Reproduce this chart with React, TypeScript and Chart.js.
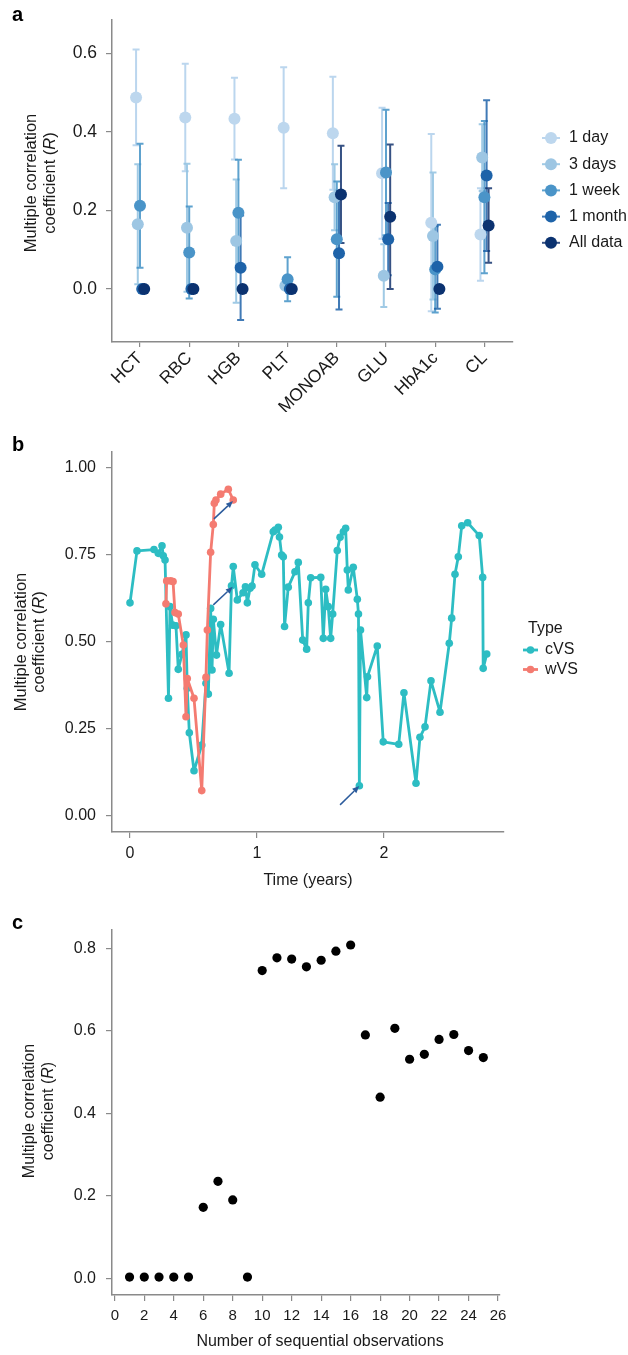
import React, { useEffect, useRef } from 'react';
import { Chart, registerables } from 'chart.js';

Chart.register(...registerables);

const FONT = "'Liberation Sans', Arial, Helvetica, sans-serif";
const TEXT = '#1a1a1a';
const AXIS = '#8a8a8a';

// ---------------- Panel a data ----------------
const analytes = ['HCT', 'RBC', 'HGB', 'PLT', 'MONOAB', 'GLU', 'HbA1c', 'CL'];
const windows = ['1 day', '3 days', '1 week', '1 month', 'All data'];
const windowColors = ['#BDD7EE', '#9DC6E3', '#4A94C8', '#1E63A9', '#0B3270'];
const windowBarColors = ['rgba(180,210,236,0.9)', 'rgba(150,196,226,0.9)', 'rgba(66,146,198,0.85)', 'rgba(30,99,169,0.85)', 'rgba(20,52,110,0.85)'];
const dodge = [-0.08, -0.045, 0, 0.045, 0.085];
const r1day = [0.488, 0.437, 0.434, 0.411, 0.397, 0.295, 0.169, 0.139];
const e1day = [0.122, 0.137, 0.104, 0.154, 0.144, 0.167, 0.226, 0.118];
const r3days = [0.165, 0.156, 0.122, 0.008, 0.234, 0.034, 0.135, 0.335];
const e3days = [0.153, 0.163, 0.157, 0, 0.084, 0.08, 0.162, 0.085];
const r1week = [0.212, 0.093, 0.194, 0.025, 0.127, 0.297, 0.05, 0.234];
const e1week = [0.158, 0.117, 0.135, 0.056, 0.147, 0.16, 0.11, 0.194];
const r1month = [0, 0, 0.054, 0, 0.091, 0.127, 0.057, 0.289];
const e1month = [0, 0, 0.133, 0, 0.143, 0.092, 0.107, 0.192];
const rAll = [0, 0, 0, 0, 0.241, 0.184, 0, 0.162];
const eAll = [0, 0, 0, 0, 0.124, 0.184, 0, 0.095];
const aValues = [r1day, r3days, r1week, r1month, rAll];
const aErrors = [e1day, e3days, e1week, e1month, eAll];
const aYTicks = [0, 0.2, 0.4, 0.6];

// ---------------- Panel b data ----------------
const cvsTime = [0.000, 0.055, 0.189, 0.223, 0.252, 0.262, 0.276, 0.303, 0.315, 0.336, 0.362, 0.380, 0.409, 0.441, 0.451, 0.467, 0.504, 0.565, 0.598, 0.617, 0.635, 0.646, 0.656, 0.681, 0.714, 0.780, 0.799, 0.813, 0.845, 0.890, 0.909, 0.924, 0.945, 0.961, 0.984, 1.037, 1.128, 1.142, 1.168, 1.177, 1.194, 1.207, 1.217, 1.246, 1.299, 1.325, 1.360, 1.391, 1.404, 1.423, 1.502, 1.522, 1.541, 1.561, 1.580, 1.596, 1.632, 1.654, 1.680, 1.698, 1.711, 1.719, 1.758, 1.790, 1.799, 1.806, 1.815, 1.864, 1.870, 1.947, 1.994, 2.116, 2.157, 2.252, 2.283, 2.323, 2.370, 2.441, 2.514, 2.533, 2.559, 2.585, 2.612, 2.659, 2.750, 2.777, 2.781, 2.809];
const cvsR = [0.611, 0.760, 0.764, 0.753, 0.775, 0.746, 0.734, 0.337, 0.600, 0.547, 0.545, 0.420, 0.463, 0.519, 0.366, 0.238, 0.129, 0.203, 0.380, 0.349, 0.595, 0.418, 0.564, 0.461, 0.549, 0.409, 0.660, 0.715, 0.619, 0.640, 0.657, 0.611, 0.653, 0.659, 0.720, 0.693, 0.815, 0.820, 0.828, 0.800, 0.748, 0.743, 0.543, 0.656, 0.700, 0.727, 0.504, 0.478, 0.611, 0.683, 0.684, 0.509, 0.650, 0.600, 0.509, 0.579, 0.761, 0.799, 0.815, 0.825, 0.705, 0.648, 0.713, 0.621, 0.579, 0.086, 0.533, 0.339, 0.399, 0.487, 0.212, 0.205, 0.353, 0.093, 0.225, 0.255, 0.387, 0.297, 0.495, 0.567, 0.693, 0.743, 0.832, 0.841, 0.804, 0.684, 0.423, 0.464];
const wvsTime = [0.283, 0.289, 0.320, 0.339, 0.354, 0.380, 0.420, 0.441, 0.451, 0.504, 0.565, 0.598, 0.609, 0.635, 0.656, 0.664, 0.677, 0.714, 0.774, 0.813];
const wvsR = [0.608, 0.674, 0.674, 0.672, 0.583, 0.579, 0.490, 0.284, 0.394, 0.337, 0.072, 0.397, 0.533, 0.756, 0.836, 0.897, 0.906, 0.923, 0.937, 0.906];
const arrowStartT = [0.661, 0.656, 1.654];
const arrowStartR = [0.852, 0.605, 0.031];
const arrowEndT = [0.811, 0.809, 1.805];
const arrowEndR = [0.903, 0.657, 0.085];
const bXTicks = [0, 1, 2];
const bYTicks = [0, 0.25, 0.5, 0.75, 1];
const types = ['cVS', 'wVS'];
const typeColors = ['#2DBDC3', '#F47B71'];

// ---------------- Panel c data ----------------
const cObs = [1, 2, 3, 4, 5, 6, 7, 8, 9, 10, 11, 12, 13, 14, 15, 16, 17, 18, 19, 20, 21, 22, 23, 24, 25];
const cR = [0.003, 0.003, 0.003, 0.003, 0.003, 0.172, 0.235, 0.19, 0.003, 0.746, 0.777, 0.774, 0.755, 0.771, 0.793, 0.808, 0.59, 0.439, 0.606, 0.531, 0.543, 0.579, 0.591, 0.552, 0.535];
const cXTicks = [0, 2, 4, 6, 8, 10, 12, 14, 16, 18, 20, 22, 24, 26];
const cYTicks = [0, 0.2, 0.4, 0.6, 0.8];

// ---------------- helpers ----------------
function drawYTitle(ctx: CanvasRenderingContext2D, x1: number, x2: number, cy: number, size: number) {
  ctx.save();
  ctx.fillStyle = TEXT;
  ctx.textBaseline = 'middle';
  ctx.font = `${size}px ${FONT}`;
  ctx.translate(x1, cy);
  ctx.rotate(-Math.PI / 2);
  ctx.textAlign = 'center';
  ctx.fillText('Multiple correlation', 0, 0);
  ctx.restore();

  ctx.save();
  ctx.fillStyle = TEXT;
  ctx.textBaseline = 'middle';
  ctx.translate(x2, cy);
  ctx.rotate(-Math.PI / 2);
  ctx.textAlign = 'left';
  const parts: [string, boolean][] = [['coefficient (', false], ['R', true], [')', false]];
  const widths = parts.map(([t, it]) => {
    ctx.font = `${it ? 'italic ' : ''}${size}px ${FONT}`;
    return ctx.measureText(t).width;
  });
  let x = -widths.reduce((a, b) => a + b, 0) / 2;
  parts.forEach(([t, it], i) => {
    ctx.font = `${it ? 'italic ' : ''}${size}px ${FONT}`;
    ctx.fillText(t, x, 0);
    x += widths[i];
  });
  ctx.restore();
}

function drawLetter(ctx: CanvasRenderingContext2D, letter: string, x: number, baseline: number) {
  ctx.save();
  ctx.fillStyle = '#000';
  ctx.font = `bold 20px ${FONT}`;
  ctx.textAlign = 'left';
  ctx.textBaseline = 'alphabetic';
  ctx.fillText(letter, x, baseline);
  ctx.restore();
}

function drawText(ctx: CanvasRenderingContext2D, t: string, x: number, y: number, size: number, align: CanvasTextAlign = 'center') {
  ctx.save();
  ctx.fillStyle = TEXT;
  ctx.font = `${size}px ${FONT}`;
  ctx.textAlign = align;
  ctx.textBaseline = 'middle';
  ctx.fillText(t, x, y);
  ctx.restore();
}

function axisCommon(tickLength: number) {
  return {
    grid: { display: true, drawOnChartArea: false, drawTicks: true, tickLength, color: AXIS, lineWidth: 1.2 },
    border: { display: true, color: AXIS, width: 1.5 },
  };
}

// ---------------- configs ----------------
const W = 628;

function configA(): any {
  const H = 440;
  const area = { left: 112, top: 20, right: 513, bottom: 342 };
  const xH = 70;
  const spacing = 49.2;
  const xMin = (area.left - 140) / spacing;
  const xMax = (area.right - 140) / spacing;
  const yScale = 392.5;
  const yMax = (289 - area.top) / yScale;
  const yMin = (289 - area.bottom) / yScale;

  const errorBars = {
    id: 'errorBars',
    beforeDatasetsDraw(chart: any) {
      const { ctx, scales } = chart;
      const x = scales.x, y = scales.y;
      ctx.save();
      ctx.lineWidth = 2;
      aValues.forEach((vals, si) => {
        ctx.strokeStyle = windowBarColors[si];
        vals.forEach((v, i) => {
          const e = aErrors[si][i];
          if (!e) return;
          const px = x.getPixelForValue(i + dodge[si]);
          const t = y.getPixelForValue(v + e);
          const b = y.getPixelForValue(v - e);
          ctx.beginPath();
          ctx.moveTo(px, t); ctx.lineTo(px, b);
          ctx.moveTo(px - 3.5, t); ctx.lineTo(px + 3.5, t);
          ctx.moveTo(px - 3.5, b); ctx.lineTo(px + 3.5, b);
          ctx.stroke();
        });
      });
      ctx.restore();
    },
  };

  const extras = {
    id: 'extrasA',
    afterDraw(chart: any) {
      const { ctx } = chart;
      drawLetter(ctx, 'a', 12, 21);
      drawYTitle(ctx, 31, 50, 183, 16.5);
      windows.forEach((w, i) => {
        const yy = 138 + i * 26.2;
        ctx.save();
        ctx.strokeStyle = windowBarColors[i];
        ctx.lineWidth = 2;
        ctx.beginPath(); ctx.moveTo(542, yy); ctx.lineTo(560, yy); ctx.stroke();
        ctx.fillStyle = windowColors[i];
        ctx.beginPath(); ctx.arc(551, yy, 6, 0, Math.PI * 2); ctx.fill();
        ctx.restore();
        drawText(ctx, w, 569, yy, 16, 'left');
      });
    },
  };

  return {
    type: 'scatter',
    data: {
      datasets: windows.map((w, si) => ({
        label: w,
        data: aValues[si].map((v, i) => ({ x: i + dodge[si], y: v })),
        backgroundColor: windowColors[si],
        borderWidth: 0,
        pointRadius: 6,
        pointHoverRadius: 6,
        order: windows.length - 1 - si,
      })),
    },
    options: {
      responsive: false,
      animation: false,
      events: [],
      layout: { padding: { left: 0, top: area.top, right: W - area.right, bottom: H - area.bottom - xH } },
      plugins: { legend: { display: false }, tooltip: { enabled: false } },
      scales: {
        x: {
          type: 'linear', min: xMin, max: xMax,
          afterBuildTicks: (s: any) => { s.ticks = analytes.map((_, i) => ({ value: i })); },
          afterFit: (s: any) => { s.height = xH; },
          ...axisCommon(5),
          ticks: { autoSkip: false, minRotation: 45, maxRotation: 45, padding: 1, color: TEXT, font: { size: 17.5, family: FONT }, callback: (v: any) => analytes[Math.round(v)] },
        },
        y: {
          type: 'linear', min: yMin, max: yMax,
          afterBuildTicks: (s: any) => { s.ticks = aYTicks.map((v) => ({ value: v })); },
          afterFit: (s: any) => { s.width = area.left; },
          ...axisCommon(6),
          ticks: { padding: 9, color: TEXT, font: { size: 17.5, family: FONT }, callback: (v: any) => Number(v).toFixed(1) },
        },
      },
    },
    plugins: [errorBars, extras],
  };
}

function configB(): any {
  const TOP = 410;
  const H = 490;
  const area = { left: 112, top: 452 - TOP, right: 504, bottom: 832 - TOP };
  const xH = 40;
  const xUnit = 127;
  const xMin = (area.left - 130) / xUnit;
  const xMax = (area.right - 130) / xUnit;
  const yUnit = 348.4;
  const yMax = (815.7 - 452) / yUnit;
  const yMin = (815.7 - 832) / yUnit;

  const extras = {
    id: 'extrasB',
    afterDatasetsDraw(chart: any) {
      const { ctx, scales } = chart;
      ctx.save();
      ctx.strokeStyle = '#2B5B9C';
      ctx.fillStyle = '#2B5B9C';
      ctx.lineWidth = 1.5;
      arrowStartT.forEach((_, i) => {
        const x1 = scales.x.getPixelForValue(arrowStartT[i]);
        const y1 = scales.y.getPixelForValue(arrowStartR[i]);
        const x2 = scales.x.getPixelForValue(arrowEndT[i]);
        const y2 = scales.y.getPixelForValue(arrowEndR[i]);
        const ang = Math.atan2(y2 - y1, x2 - x1);
        const L = 7, Wd = 3;
        const bx = x2 - L * Math.cos(ang), by = y2 - L * Math.sin(ang);
        ctx.beginPath(); ctx.moveTo(x1, y1); ctx.lineTo(bx, by); ctx.stroke();
        ctx.beginPath();
        ctx.moveTo(x2, y2);
        ctx.lineTo(bx + Wd * Math.sin(ang), by - Wd * Math.cos(ang));
        ctx.lineTo(bx - Wd * Math.sin(ang), by + Wd * Math.cos(ang));
        ctx.closePath(); ctx.fill();
      });
      ctx.restore();
    },
    afterDraw(chart: any) {
      const { ctx } = chart;
      drawLetter(ctx, 'b', 12, 451 - TOP);
      drawYTitle(ctx, 21, 39, 642 - TOP, 16.5);
      drawText(ctx, 'Time (years)', 308, 881 - TOP, 16);
      drawText(ctx, 'Type', 528, 629 - TOP, 16, 'left');
      types.forEach((t, i) => {
        const yy = 650 - TOP + i * 19.5;
        ctx.save();
        ctx.strokeStyle = typeColors[i];
        ctx.lineWidth = 2.8;
        ctx.beginPath(); ctx.moveTo(523, yy); ctx.lineTo(538, yy); ctx.stroke();
        ctx.fillStyle = typeColors[i];
        ctx.beginPath(); ctx.arc(530.5, yy, 3.8, 0, Math.PI * 2); ctx.fill();
        ctx.restore();
        drawText(ctx, t, 545, yy, 16, 'left');
      });
    },
  };

  const series = [
    { t: cvsTime, r: cvsR },
    { t: wvsTime, r: wvsR },
  ];

  return {
    type: 'scatter',
    data: {
      datasets: series.map((s, i) => ({
        label: types[i],
        data: s.t.map((t, j) => ({ x: t, y: s.r[j] })),
        showLine: true,
        borderColor: typeColors[i],
        borderWidth: 2.8,
        borderJoinStyle: 'round',
        borderCapStyle: 'round',
        backgroundColor: typeColors[i],
        pointBackgroundColor: typeColors[i],
        pointBorderWidth: 0,
        pointRadius: 3.8,
        pointHoverRadius: 3.8,
        order: 1 - i,
      })),
    },
    options: {
      responsive: false,
      animation: false,
      events: [],
      layout: { padding: { left: 0, top: area.top, right: W - area.right, bottom: H - area.bottom - xH } },
      plugins: { legend: { display: false }, tooltip: { enabled: false } },
      scales: {
        x: {
          type: 'linear', min: xMin, max: xMax,
          afterBuildTicks: (s: any) => { s.ticks = bXTicks.map((v) => ({ value: v })); },
          afterFit: (s: any) => { s.height = xH; },
          ...axisCommon(6),
          ticks: { autoSkip: false, maxRotation: 0, padding: 6, color: TEXT, font: { size: 16, family: FONT }, callback: (v: any) => String(Math.round(v)) },
        },
        y: {
          type: 'linear', min: yMin, max: yMax,
          afterBuildTicks: (s: any) => { s.ticks = bYTicks.map((v) => ({ value: v })); },
          afterFit: (s: any) => { s.width = area.left; },
          ...axisCommon(6),
          ticks: { padding: 10, color: TEXT, font: { size: 16, family: FONT }, callback: (v: any) => Number(v).toFixed(2) },
        },
      },
    },
    plugins: [extras],
  };
}

function configC(): any {
  const TOP = 900;
  const H = 455;
  const area = { left: 112, top: 930 - TOP, right: 500, bottom: 1295 - TOP };
  const xH = 40;
  const xUnit = 14.74;
  const xMin = (area.left - 114.8) / xUnit;
  const xMax = (area.right - 114.8) / xUnit;
  const yUnit = 412.5;
  const yMax = (1278.3 - 930) / yUnit;
  const yMin = (1278.3 - 1295) / yUnit;

  const extras = {
    id: 'extrasC',
    afterDraw(chart: any) {
      const { ctx } = chart;
      drawLetter(ctx, 'c', 12, 929 - TOP);
      drawYTitle(ctx, 30, 49, 1111 - TOP, 16);
      drawText(ctx, 'Number of sequential observations', 320, 1342 - TOP, 16);
    },
  };

  return {
    type: 'scatter',
    data: {
      datasets: [{
        label: 'R',
        data: cObs.map((n, i) => ({ x: n, y: cR[i] })),
        backgroundColor: '#000',
        borderWidth: 0,
        pointRadius: 4.6,
        pointHoverRadius: 4.6,
      }],
    },
    options: {
      responsive: false,
      animation: false,
      events: [],
      layout: { padding: { left: 0, top: area.top, right: W - area.right, bottom: H - area.bottom - xH } },
      plugins: { legend: { display: false }, tooltip: { enabled: false } },
      scales: {
        x: {
          type: 'linear', min: xMin, max: xMax,
          afterBuildTicks: (s: any) => { s.ticks = cXTicks.map((v) => ({ value: v })); },
          afterFit: (s: any) => { s.height = xH; },
          ...axisCommon(6),
          ticks: { autoSkip: false, maxRotation: 0, padding: 6, color: TEXT, font: { size: 15, family: FONT }, callback: (v: any) => String(Math.round(v)) },
        },
        y: {
          type: 'linear', min: yMin, max: yMax,
          afterBuildTicks: (s: any) => { s.ticks = cYTicks.map((v) => ({ value: v })); },
          afterFit: (s: any) => { s.width = area.left; },
          ...axisCommon(6),
          ticks: { padding: 10, color: TEXT, font: { size: 16, family: FONT }, callback: (v: any) => Number(v).toFixed(1) },
        },
      },
    },
    plugins: [extras],
  };
}

function ChartPanel({ top, height, makeConfig }: { top: number; height: number; makeConfig: () => any }) {
  const ref = useRef<HTMLCanvasElement>(null);
  useEffect(() => {
    if (!ref.current) return;
    const chart = new Chart(ref.current, makeConfig());
    return () => chart.destroy();
  }, []);
  return (
    <canvas
      ref={ref}
      width={W}
      height={height}
      style={{ position: 'absolute', left: 0, top, width: W, height, display: 'block' }}
    />
  );
}

export default function App() {
  Chart.defaults.font.family = FONT;
  Chart.defaults.color = TEXT;
  return (
    <div style={{ position: 'absolute', left: 0, top: 0, width: W, height: 1355, background: '#fff', overflow: 'hidden' }}>
      <ChartPanel top={0} height={440} makeConfig={configA} />
      <ChartPanel top={410} height={490} makeConfig={configB} />
      <ChartPanel top={900} height={455} makeConfig={configC} />
    </div>
  );
}
